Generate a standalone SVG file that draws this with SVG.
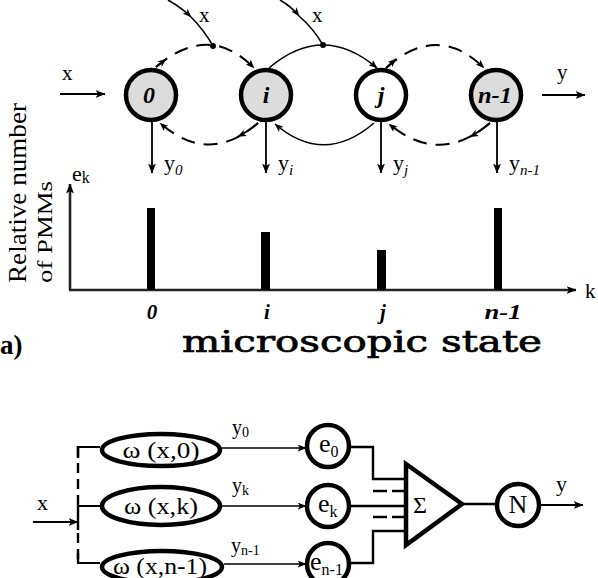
<svg xmlns="http://www.w3.org/2000/svg" width="598" height="578" viewBox="0 0 598 578" font-family="'Liberation Serif', 'Times New Roman', serif">
<style>
text{font-family:"Liberation Serif","Times New Roman",serif;fill:#000}
.lbl{font-size:24px;font-weight:bold;font-style:italic;text-anchor:middle}
.tick{font-size:21px;font-weight:bold;font-style:italic;text-anchor:middle}
.t20{font-size:21px}
.sub{font-size:15px;font-style:italic}
.node{stroke:#000;stroke-width:4.5}
.gray{fill:#dcdcdc}
.white{fill:#fff}
.ln{fill:none;stroke:#000;stroke-width:1.6}
.dash{fill:none;stroke:#000;stroke-width:2;stroke-dasharray:14 9}
.arr{fill:none;stroke:#000;stroke-width:1.8}
.axis{fill:none;stroke:#222;stroke-width:2.6}
.bus{fill:none;stroke:#000;stroke-width:2.4}
.thin{fill:none;stroke:#000;stroke-width:2}
.thick{fill:#fff;stroke:#000;stroke-width:4.5}
.bar{fill:#000}
.micro{font-family:"DejaVu Serif",serif;stroke:#000;stroke-width:0.7}
</style>
<defs>
<marker id="ah" viewBox="0 0 10 8" refX="9.5" refY="4" markerWidth="10" markerHeight="8" markerUnits="userSpaceOnUse" orient="auto"><path d="M0,0 L10,4 L0,8 L2.5,4 z" fill="#000"/></marker>
<marker id="ahs" viewBox="0 0 10 8" refX="9.5" refY="4" markerWidth="9" markerHeight="7" markerUnits="userSpaceOnUse" orient="auto"><path d="M0,0 L10,4 L0,8 L2.5,4 z" fill="#000"/></marker>
</defs>

<!-- connectors -->
<g id="connectors">
  <path class="arr" d="M60,94 H105" marker-end="url(#ah)"/>
  <path class="arr" d="M542,95 H585" marker-end="url(#ah)"/>
  <path class="ln" d="M168,0 Q182,8 191,17" marker-end="url(#ahs)"/>
  <path class="ln" d="M191,17 Q204,30 213,46"/>
  <path class="ln" d="M280,0 Q292,7 299,16" marker-end="url(#ahs)"/>
  <path class="ln" d="M299,16 Q313,28 323,45"/>
  <circle cx="213" cy="46" r="3" fill="#000"/>
  <circle cx="323" cy="45" r="3" fill="#000"/>
  <path class="dash" d="M156,67 Q209,22 254,68" marker-end="url(#ahs)"/>
  <path class="arr" d="M156,67 L166,59" marker-end="url(#ahs)"/>
  <path class="ln" d="M269,68 Q323,22 377,68" marker-end="url(#ahs)"/>
  <path class="dash" d="M386,68 Q437,22 484,68" marker-end="url(#ahs)"/>
  <path class="arr" d="M386,68 L396,59" marker-end="url(#ahs)"/>
  <path class="dash" d="M258,123 Q209,166 160,123" marker-end="url(#ahs)"/>
  <path class="arr" d="M258,123 Q247,132 238,136.6" marker-end="url(#ahs)"/>
  <path class="ln" d="M374,123 Q324,166 275,124" marker-end="url(#ahs)"/>
  <path class="dash" d="M490,123 Q440,166 389,124" marker-end="url(#ahs)"/>
  <path class="arr" d="M490,123 Q479,132 470,136.8" marker-end="url(#ahs)"/>
  <path class="arr" d="M152,121 V173" marker-end="url(#ah)"/>
  <path class="arr" d="M266,121 V173" marker-end="url(#ah)"/>
  <path class="arr" d="M381,121 V173" marker-end="url(#ah)"/>
  <path class="arr" d="M497,121 V173" marker-end="url(#ah)"/>

  <path class="axis" d="M70,290 V184" marker-end="url(#ah)"/>
  <path class="axis" d="M69,290 H576" marker-end="url(#ah)"/>

  <path class="thin" d="M100,447 H77"/>
  <path class="bus" d="M78,447 V498" stroke-dasharray="10 6"/>
  <path class="bus" d="M78,446 V458"/>
  <path class="bus" d="M78,498 V530"/>
  <path class="bus" d="M78,533 V563" stroke-dasharray="10 6"/>
  <path class="bus" d="M78,553 V563"/>
  <path class="thin" d="M77,563 H100"/>
  <path class="thin" d="M78,506 H100"/>
  <path class="arr" d="M33,522 H78" marker-end="url(#ah)"/>
  <path class="ln" d="M222,448 H306" marker-end="url(#ahs)"/>
  <path class="ln" d="M222,506 H306" marker-end="url(#ahs)"/>
  <path class="ln" d="M224,564 H306" marker-end="url(#ahs)"/>
  <path class="bus" d="M350,447 H373 V479 H406"/>
  <path class="bus" d="M350,506 H406"/>
  <path class="bus" d="M350,563 H373 V531 H406"/>
  <path class="bus" d="M373,491 H404" stroke-dasharray="14 5"/>
  <path class="bus" d="M373,517 H404" stroke-dasharray="14 5"/>
  <path class="bus" d="M462,504 H497"/>
  <path class="arr" d="M540,505 H583" marker-end="url(#ah)"/>
</g>

<g id="node-0"><circle class="node gray" cx="151" cy="95" r="25"/><text class="lbl" x="149" y="103">0</text></g>
<g id="node-i"><circle class="node gray" cx="266" cy="95" r="25"/><text class="lbl" x="266" y="103">i</text></g>
<g id="node-j"><circle class="node white" cx="381" cy="95" r="25"/><text class="lbl" x="381" y="103">j</text></g>
<g id="node-n-1"><circle class="node gray" cx="496" cy="95" r="25"/><text class="lbl" x="495" y="103" textLength="34" lengthAdjust="spacingAndGlyphs">n-1</text></g>

<g id="top-labels">
  <text class="t20" x="62" y="80">x</text>
  <text class="t20" x="557" y="79">y</text>
  <text class="t20" x="199" y="22">x</text>
  <text class="t20" x="312" y="22">x</text>
  <text x="164" y="170" font-size="22">y<tspan class="sub" dy="5">0</tspan></text>
  <text x="278" y="170" font-size="22">y<tspan class="sub" dy="5">i</tspan></text>
  <text x="393" y="170" font-size="22">y<tspan class="sub" dy="5">j</tspan></text>
  <text x="509" y="170" font-size="22">y<tspan class="sub" dy="5">n-1</tspan></text>
</g>

<g id="chart">
  <rect class="bar" x="147" y="208" width="8" height="82"/>
  <rect class="bar" x="261" y="232" width="9" height="58"/>
  <rect class="bar" x="377" y="250" width="9" height="40"/>
  <rect class="bar" x="494" y="208" width="8" height="82"/>
  <text x="72" y="181" font-size="22">e<tspan font-size="16" dy="2">k</tspan></text>
  <text x="585" y="298" font-size="21">k</text>
  <text class="tick" x="152" y="319">0</text>
  <text class="tick" x="267" y="319">i</text>
  <text class="tick" x="383" y="319">j</text>
  <text class="tick" x="503" y="319" textLength="37" lengthAdjust="spacingAndGlyphs">n-1</text>
  <text transform="translate(26,283) rotate(-90)" font-size="26" textLength="180" lengthAdjust="spacingAndGlyphs">Relative number</text>
  <text transform="translate(52,283) rotate(-90)" font-size="22" textLength="102" lengthAdjust="spacingAndGlyphs">of PMMs</text>
  <text x="0" y="354" font-size="27" font-weight="bold">a)</text>
  <text class="micro" x="182" y="352" font-size="30" textLength="360" lengthAdjust="spacingAndGlyphs">microscopic state</text>
</g>

<g id="omega-0"><ellipse class="thick" cx="161" cy="450" rx="59" ry="16"/><text x="161" y="458" font-size="23" text-anchor="middle" textLength="77" lengthAdjust="spacingAndGlyphs">ω (x,0)</text></g>
<g id="omega-k"><ellipse class="thick" cx="161" cy="506" rx="59" ry="19"/><text x="161" y="514" font-size="23" text-anchor="middle" textLength="74" lengthAdjust="spacingAndGlyphs">ω (x,k)</text></g>
<g id="omega-n-1"><ellipse class="thick" cx="162" cy="567" rx="60" ry="16"/><text x="160" y="574" font-size="23" text-anchor="middle" textLength="94" lengthAdjust="spacingAndGlyphs">ω (x,n-1)</text></g>
<g id="e-0"><circle class="thick" cx="328" cy="446" r="21"/><text x="319" y="452" font-size="26">e<tspan font-size="16" dy="5">0</tspan></text></g>
<g id="e-k"><circle class="thick" cx="328" cy="506" r="21"/><text x="318" y="512" font-size="26">e<tspan font-size="16" dy="5">k</tspan></text></g>
<g id="e-n-1"><circle class="thick" cx="328" cy="564" r="21"/><text x="310" y="570" font-size="26">e<tspan font-size="16" dy="5">n-1</tspan></text></g>
<g id="sum"><path class="thick" d="M406,464 L406,545 L462,504 Z"/><text x="420" y="513" font-size="24" text-anchor="middle">Σ</text></g>
<g id="norm"><circle class="thick" cx="518" cy="505" r="21"/><text x="518" y="513" font-size="26" text-anchor="middle">N</text></g>

<g id="bottom-labels">
  <text x="37" y="510" font-size="22">x</text>
  <text x="232" y="434" font-size="20">y<tspan font-size="14" dy="3">0</tspan></text>
  <text x="232" y="492" font-size="20">y<tspan font-size="14" dy="3">k</tspan></text>
  <text x="231" y="552" font-size="20">y<tspan font-size="14" dy="3">n-1</tspan></text>
  <text x="556" y="491" font-size="22">y</text>
</g>
</svg>
